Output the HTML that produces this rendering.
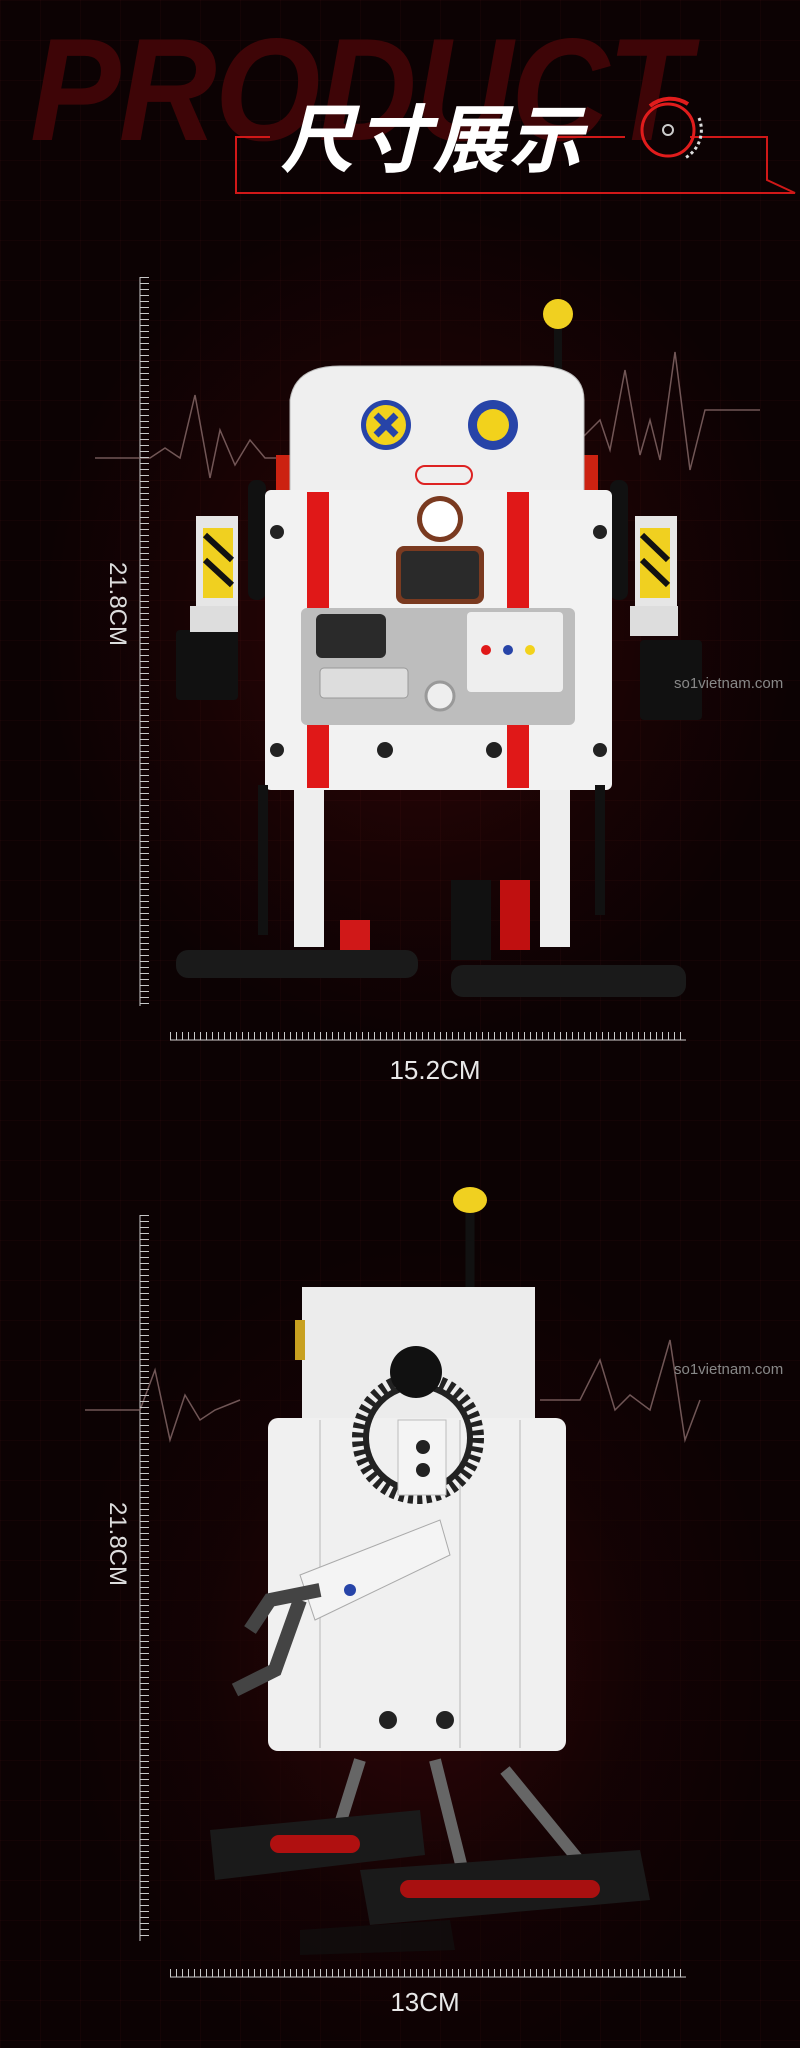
<!DOCTYPE html>
<html><head><meta charset="utf-8"><style>
html,body{margin:0;padding:0;background:#0d0203;}
#w{position:relative;width:800px;height:2048px;overflow:hidden;
background:
 linear-gradient(rgba(120,30,30,0.08) 1px,transparent 1px) 0 0/40px 40px,
 linear-gradient(90deg,rgba(120,30,30,0.08) 1px,transparent 1px) 0 0/40px 40px,
 radial-gradient(ellipse 380px 420px at 420px 620px,#320608 0%,#180304 60%,#0c0203 100%),
 #0c0203;}
#w2{position:absolute;left:0;top:1100px;width:800px;height:948px;background:
 radial-gradient(ellipse 360px 420px at 420px 560px,rgba(50,6,8,0.9) 0%,rgba(24,3,4,0.6) 60%,rgba(0,0,0,0) 100%);}
.t{position:absolute;font-family:"Liberation Sans","Noto Sans CJK SC",sans-serif;}
</style></head><body><div id="w"><div id="w2"></div>
<div class="t" style="left:30px;top:17px;font-size:146px;font-weight:bold;font-style:italic;color:#3e0507;letter-spacing:-2px;transform:scaleX(0.93);transform-origin:0 0;line-height:1;white-space:nowrap">PRODUCT</div>
<svg style="position:absolute;left:0;top:0" width="800" height="2048">
 <polyline points="270,137 236,137 236,193 795,193 767,180 767,137 690,137" fill="none" stroke="#d01818" stroke-width="2"/>
 <line x1="555" y1="137" x2="625" y2="137" stroke="#d01818" stroke-width="2"/>
 <circle cx="668" cy="130" r="26" fill="none" stroke="#e01c1c" stroke-width="3"/>
 <path d="M650,106 A32,32 0 0 1 688,104" fill="none" stroke="#e01c1c" stroke-width="4"/>
 <path d="M699,118 A32,32 0 0 1 685,158" fill="none" stroke="#ddd" stroke-width="3" stroke-dasharray="3,3"/>
 <circle cx="668" cy="130" r="5" fill="none" stroke="#ccc" stroke-width="2"/>
 <g stroke="#ccc" stroke-width="1">
  <line x1="140" y1="277" x2="140" y2="1006"/>
  <line x1="170" y1="1040" x2="686" y2="1040"/>
  <line x1="140" y1="1215" x2="140" y2="1941"/>
  <line x1="170" y1="1977" x2="686" y2="1977"/>
 </g>
 <g fill="none" stroke="#8a6b6b" stroke-width="1.5" opacity="0.8">
  <polyline points="95,458 150,458 165,448 180,458 195,395 210,478 220,430 235,465 250,440 265,458 290,458"/>
  <polyline points="580,440 600,420 610,450 625,370 640,455 650,420 660,460 675,352 690,470 705,410 730,410 760,410"/>
  <polyline points="85,1410 140,1410 155,1370 170,1440 185,1395 200,1420 215,1410 240,1400"/>
  <polyline points="540,1400 580,1400 600,1360 615,1410 630,1395 650,1410 670,1340 685,1440 700,1400"/>
 </g>
 <!-- robot 1 -->
 <line x1="558" y1="320" x2="558" y2="385" stroke="#111" stroke-width="8"/>
 <circle cx="558" cy="314" r="15" fill="#f0d020"/>
 <rect x="276" y="455" width="20" height="60" fill="#c21" />
 <rect x="578" y="455" width="20" height="60" fill="#c21" />
 <path d="M290,400 Q295,366 340,366 L534,366 Q584,366 584,400 L584,497 L290,497Z" fill="#efefef" stroke="#bbb"/>
 <circle cx="386" cy="425" r="25" fill="#2744a8"/><circle cx="386" cy="425" r="20" fill="#f2d21c"/>
 <path d="M376,415 L396,435 M396,415 L376,435" stroke="#2744a8" stroke-width="7"/>
 <circle cx="493" cy="425" r="25" fill="#2744a8"/><circle cx="493" cy="425" r="16" fill="#f2d21c"/>
 <rect x="416" y="466" width="56" height="18" rx="9" fill="none" stroke="#d22" stroke-width="2"/>
 <rect x="196" y="516" width="42" height="90" fill="#e6e6e6"/>
 <rect x="203" y="528" width="30" height="70" fill="#f0d020"/>
 <rect x="176" y="630" width="62" height="70" fill="#111" rx="4"/>
 <rect x="190" y="606" width="48" height="26" fill="#ddd"/>
 <rect x="635" y="516" width="42" height="90" fill="#e6e6e6"/>
 <rect x="640" y="528" width="30" height="70" fill="#f0d020"/>
 <rect x="640" y="640" width="62" height="80" fill="#111" rx="4"/>
 <rect x="630" y="606" width="48" height="30" fill="#ddd"/>
 <g stroke="#111" stroke-width="6">
  <line x1="205" y1="535" x2="232" y2="560"/><line x1="205" y1="560" x2="232" y2="585"/>
  <line x1="642" y1="535" x2="668" y2="560"/><line x1="642" y1="560" x2="668" y2="585"/>
 </g>
 <rect x="248" y="480" width="18" height="120" rx="8" fill="#111"/>
 <rect x="610" y="480" width="18" height="120" rx="8" fill="#111"/>
 <rect x="265" y="490" width="347" height="300" rx="6" fill="#f2f2f2"/>
 <rect x="307" y="492" width="22" height="296" fill="#e01818"/>
 <rect x="507" y="492" width="22" height="296" fill="#e01818"/>
 <circle cx="440" cy="519" r="23" fill="#7a3a20"/><circle cx="440" cy="519" r="18" fill="#fff"/>
 <rect x="396" y="546" width="88" height="58" rx="8" fill="#7a3a20"/><rect x="401" y="551" width="78" height="48" rx="5" fill="#2a2a2a"/>
 <rect x="301" y="608" width="274" height="117" rx="6" fill="#bdbdbd"/>
 <rect x="316" y="614" width="70" height="44" rx="6" fill="#2a2a2a"/>
 <rect x="467" y="612" width="96" height="80" rx="4" fill="#eee"/>
 <circle cx="486" cy="650" r="5" fill="#e01818"/><circle cx="508" cy="650" r="5" fill="#2744a8"/><circle cx="530" cy="650" r="5" fill="#f2d21c"/>
 <rect x="320" y="668" width="88" height="30" rx="4" fill="#ddd" stroke="#999"/>
 <circle cx="440" cy="696" r="14" fill="#eee" stroke="#999" stroke-width="3"/>
 <g fill="#222"><circle cx="277" cy="532" r="7"/><circle cx="600" cy="532" r="7"/><circle cx="277" cy="750" r="7"/><circle cx="600" cy="750" r="7"/><circle cx="385" cy="750" r="8"/><circle cx="494" cy="750" r="8"/></g>
 <rect x="294" y="790" width="30" height="157" fill="#eee"/>
 <rect x="540" y="790" width="30" height="157" fill="#eee"/>
 <rect x="258" y="785" width="10" height="150" fill="#111"/>
 <rect x="595" y="785" width="10" height="130" fill="#111"/>
 <rect x="176" y="950" width="242" height="28" rx="12" fill="#1a1a1a"/>
 <rect x="340" y="920" width="30" height="30" fill="#d01818"/>
 <rect x="451" y="880" width="40" height="80" fill="#111"/>
 <rect x="500" y="880" width="30" height="70" fill="#c01010"/>
 <rect x="451" y="965" width="235" height="32" rx="12" fill="#1a1a1a"/>
 <!-- robot 2 -->
 <line x1="470" y1="1210" x2="470" y2="1300" stroke="#111" stroke-width="9"/>
 <ellipse cx="470" cy="1200" rx="17" ry="13" fill="#f0d020"/>
 <rect x="302" y="1287" width="233" height="140" fill="#ececec"/>
 <rect x="295" y="1320" width="10" height="40" fill="#c8a020"/>
 <rect x="268" y="1418" width="298" height="333" rx="10" fill="#f0f0f0"/>
 <g stroke="#d4d4d4" stroke-width="2"><line x1="320" y1="1420" x2="320" y2="1748"/><line x1="460" y1="1420" x2="460" y2="1748"/><line x1="520" y1="1420" x2="520" y2="1748"/></g>
 <circle cx="418" cy="1438" r="60" fill="none" stroke="#222" stroke-width="12" stroke-dasharray="5,4"/>
 <circle cx="418" cy="1438" r="52" fill="none" stroke="#222" stroke-width="6"/>
 <circle cx="416" cy="1372" r="26" fill="#111"/>
 <rect x="398" y="1420" width="48" height="75" fill="#f4f4f4" stroke="#bbb"/>
 <circle cx="423" cy="1447" r="7" fill="#222"/><circle cx="423" cy="1470" r="7" fill="#222"/>
 <polygon points="300,1575 440,1520 450,1555 315,1620" fill="#f4f4f4" stroke="#aaa"/>
 <circle cx="350" cy="1590" r="6" fill="#2744a8"/>
 <path d="M320,1590 L270,1600 L250,1630 M300,1600 L275,1670 L235,1690" stroke="#444" stroke-width="14" fill="none"/>
 <circle cx="388" cy="1720" r="9" fill="#222"/><circle cx="445" cy="1720" r="9" fill="#222"/>
 <g stroke="#666" stroke-width="12"><line x1="360" y1="1760" x2="335" y2="1840"/><line x1="435" y1="1760" x2="465" y2="1880"/><line x1="505" y1="1770" x2="595" y2="1880"/></g>
 <polygon points="210,1830 420,1810 425,1855 215,1880" fill="#1a1a1a"/>
 <polygon points="360,1870 640,1850 650,1900 370,1925" fill="#1a1a1a"/>
 <rect x="270" y="1835" width="90" height="18" rx="9" fill="#b01010"/>
 <rect x="400" y="1880" width="200" height="18" rx="9" fill="#a81010"/>
 <polygon points="300,1930 450,1920 455,1950 300,1955" fill="#111" opacity="0.7"/>
</svg>
<div style="position:absolute;left:140px;top:277px;width:9px;height:729px;background:repeating-linear-gradient(#c8c8c8 0 1px,transparent 1px 6px)"></div>
<div style="position:absolute;left:140px;top:1215px;width:9px;height:726px;background:repeating-linear-gradient(#c8c8c8 0 1px,transparent 1px 6px)"></div>
<div style="position:absolute;left:170px;top:1032px;width:516px;height:8px;background:repeating-linear-gradient(90deg,#c8c8c8 0 1px,transparent 1px 6px)"></div>
<div style="position:absolute;left:170px;top:1969px;width:516px;height:8px;background:repeating-linear-gradient(90deg,#c8c8c8 0 1px,transparent 1px 6px)"></div>
<div class="t" style="left:280px;top:104px;font-size:74px;font-weight:bold;font-style:italic;color:#fff;letter-spacing:2px;line-height:1">尺寸展示</div>
<div class="t" style="left:72px;top:590px;font-size:24px;color:#ddd;transform:rotate(90deg);transform-origin:center;width:90px;text-align:center">21.8CM</div>
<div class="t" style="left:72px;top:1530px;font-size:24px;color:#ddd;transform:rotate(90deg);transform-origin:center;width:90px;text-align:center">21.8CM</div>
<div class="t" style="left:380px;top:1055px;font-size:26px;color:#e8e8e8;width:110px;text-align:center">15.2CM</div>
<div class="t" style="left:370px;top:1987px;font-size:26px;color:#e8e8e8;width:110px;text-align:center">13CM</div>
<div class="t" style="left:674px;top:675px;font-size:15px;color:#888">so1vietnam.com</div>
<div class="t" style="left:674px;top:1361px;font-size:15px;color:#888">so1vietnam.com</div>
</div></body></html>
